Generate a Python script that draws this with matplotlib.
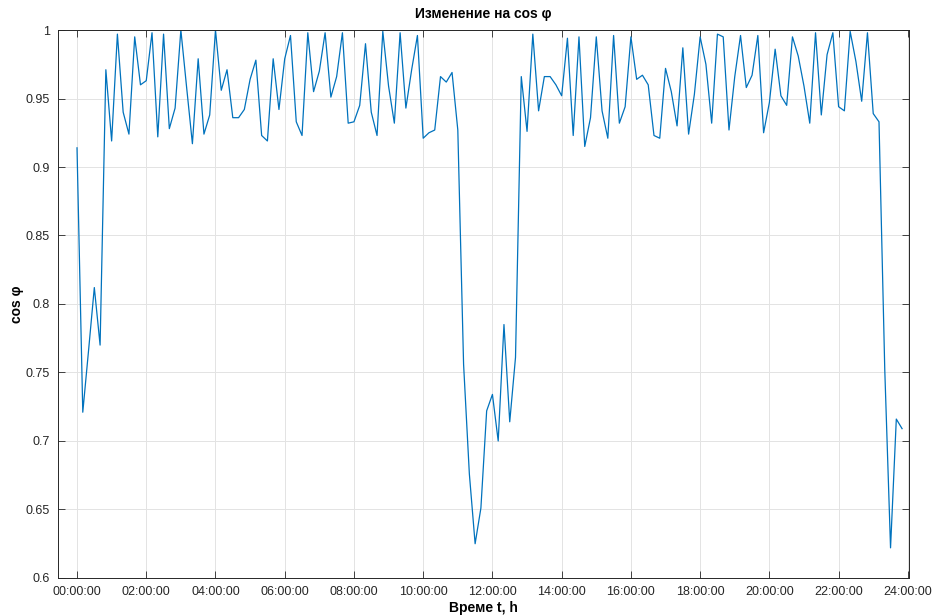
import numpy as np
import matplotlib.pyplot as plt

# cos phi, one sample every 10 minutes from 00:00 to 23:50
cos_phi = [0.914, 0.721, 0.766, 0.812, 0.770, 0.971, 0.919, 0.997, 0.940, 0.924, 0.995, 0.960,
           0.963, 0.998, 0.922, 0.997, 0.928, 0.943, 1.000, 0.958, 0.917, 0.979, 0.924, 0.938,
           1.000, 0.956, 0.971, 0.936, 0.936, 0.942, 0.964, 0.978, 0.923, 0.919, 0.979, 0.942,
           0.979, 0.996, 0.933, 0.923, 0.998, 0.955, 0.970, 0.998, 0.951, 0.966, 0.998, 0.932,
           0.933, 0.945, 0.990, 0.940, 0.923, 0.999, 0.959, 0.932, 0.998, 0.943, 0.971, 0.996,
           0.921, 0.925, 0.927, 0.966, 0.962, 0.969, 0.927, 0.756, 0.676, 0.625, 0.651, 0.722,
           0.734, 0.700, 0.785, 0.714, 0.761, 0.966, 0.926, 0.997, 0.941, 0.966, 0.966, 0.960,
           0.952, 0.994, 0.923, 0.995, 0.915, 0.936, 0.995, 0.941, 0.921, 0.996, 0.932, 0.944,
           0.995, 0.964, 0.967, 0.960, 0.923, 0.921, 0.972, 0.955, 0.930, 0.987, 0.924, 0.953,
           0.995, 0.975, 0.932, 0.997, 0.995, 0.927, 0.966, 0.996, 0.958, 0.967, 0.996, 0.925,
           0.947, 0.986, 0.952, 0.945, 0.995, 0.981, 0.959, 0.932, 0.998, 0.938, 0.982, 0.998,
           0.944, 0.941, 0.999, 0.977, 0.948, 0.998, 0.939, 0.933, 0.752, 0.622, 0.716, 0.709]
step_min = 10
x_ticks = [0, 2, 4, 6, 8, 10, 12, 14, 16, 18, 20, 22, 24]
x_labels = ['%02d:00:00' % h for h in x_ticks]
y_ticks = [0.6, 0.65, 0.7, 0.75, 0.8, 0.85, 0.9, 0.95, 1.0]
y_labels = ['0.6', '0.65', '0.7', '0.75', '0.8', '0.85', '0.9', '0.95', '1']

plt.rcParams['font.family'] = ['Liberation Sans', 'DejaVu Sans']

hours = np.arange(len(cos_phi)) * step_min / 60.0

fig = plt.figure(figsize=(9.32, 6.15), dpi=100)
ax = fig.add_axes([0.0622, 0.0602, 0.913, 0.891])
ax.plot(hours, cos_phi, color='#0072BD', linewidth=0.9)

ax.set_xlim(-0.55, 24.03)
ax.set_ylim(0.6, 1.0)
ax.set_xticks(x_ticks)
ax.set_xticklabels(x_labels)
ax.set_yticks(y_ticks)
ax.set_yticklabels(y_labels)
ax.tick_params(direction='in', length=5, width=0.6, top=True, right=True,
               labelsize=9, colors='#262626', pad=6)
for s in ax.spines.values():
    s.set_color('#262626')
    s.set_linewidth(0.7)
ax.grid(True, color='#e3e3e3', linewidth=0.7)
ax.set_axisbelow(True)

ax.set_title('Изменение на cos φ', fontsize=10, fontweight='bold', pad=9)
ax.set_xlabel('Време t, h', fontsize=10, fontweight='bold', labelpad=2)
ax.set_ylabel('cos φ', fontsize=10, fontweight='bold', labelpad=1)

fig.savefig('out.png', dpi=100)
